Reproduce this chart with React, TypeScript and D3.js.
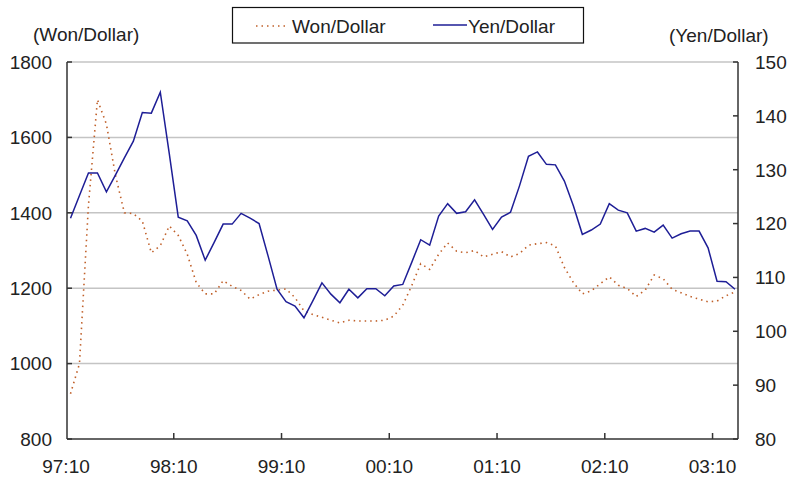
import React from "react";
import * as d3 from "d3";

// monthly data, 1997:10 onwards
const wonDollar = [
  920, 1000, 1420, 1700, 1635, 1500, 1400, 1398, 1378, 1294,
  1313, 1365, 1340, 1290, 1215, 1185, 1185, 1220, 1205, 1194,
  1171, 1183, 1192, 1195, 1198, 1175, 1140, 1130, 1123, 1115,
  1108, 1115, 1113, 1113, 1113, 1115, 1126, 1155, 1207, 1265,
  1250, 1290, 1320, 1298, 1294, 1300, 1283, 1290, 1297, 1283,
  1292, 1314, 1318, 1321, 1312, 1255, 1215, 1185, 1193, 1212,
  1230, 1208, 1199, 1178, 1195, 1235, 1225, 1197, 1188, 1178,
  1171, 1164, 1166, 1180, 1190,
];

const yenDollar = [
  121.0, 125.2, 129.4, 129.4, 125.9, 129.0, 132.2, 135.3, 140.6, 140.5,
  144.4, 133.0, 121.2, 120.5, 117.8, 113.2, 116.5, 119.9, 119.9, 121.9,
  121.0, 120.0, 114.0, 107.8, 105.5, 104.7, 102.5, 105.7, 109.0, 106.9,
  105.3, 107.8, 106.2, 107.9, 107.9, 106.6, 108.4, 108.7, 112.8, 117.0,
  116.0, 121.4, 123.7, 121.9, 122.2, 124.4, 121.7, 118.9, 121.2, 122.1,
  127.0, 132.5, 133.3, 131.0, 130.9, 127.9, 123.3, 118.0, 118.8, 119.9,
  123.7, 122.5, 122.0, 118.6, 119.1, 118.4, 119.7, 117.3, 118.1, 118.6,
  118.6, 115.5, 109.3, 109.2, 107.8,
];

const xTickLabels = ["97:10", "98:10", "99:10", "00:10", "01:10", "02:10", "03:10"];
const leftTicks = [800, 1000, 1200, 1400, 1600, 1800];
const rightTicks = [80, 90, 100, 110, 120, 130, 140, 150];

const WIDTH = 788;
const HEIGHT = 481;
const left = 67;
const right = 738;
const top = 62;
const bottom = 439;

const font = "'Liberation Sans', Arial, sans-serif";
const wonColor = "#c0602a";
const yenColor = "#1e1e96";

export default function App() {
  const n = wonDollar.length;
  const x = d3.scaleLinear().domain([0, n - 1]).range([70.5, 735]);
  const step = x(1) - x(0);
  const yL = d3.scaleLinear().domain([800, 1800]).range([bottom, top]);
  const yR = d3.scaleLinear().domain([80, 150]).range([bottom, top]);

  const wonLine = d3
    .line<number>()
    .x((_, i) => x(i))
    .y((d) => yL(d));
  const yenLine = d3
    .line<number>()
    .x((_, i) => x(i))
    .y((d) => yR(d));

  return (
    <svg
      width={WIDTH}
      height={HEIGHT}
      style={{ position: "absolute", left: 0, top: 0, background: "#fff" }}
      fontFamily={font}
    >
      {/* gridlines */}
      {leftTicks
        .filter((t) => t > 800)
        .map((t) => (
          <line
            key={"g" + t}
            x1={left}
            x2={right}
            y1={yL(t)}
            y2={yL(t)}
            stroke="#c4c4c4"
            strokeWidth={1.5}
          />
        ))}

      {/* series */}
      <path
        d={wonLine(wonDollar) || ""}
        fill="none"
        stroke={wonColor}
        strokeWidth={1.6}
        strokeDasharray="1.5 4"
      />
      <path d={yenLine(yenDollar) || ""} fill="none" stroke={yenColor} strokeWidth={1.5} />

      {/* axes */}
      <line x1={left} x2={left} y1={top} y2={bottom} stroke="#333" strokeWidth={1.5} />
      <line x1={right} x2={right} y1={top} y2={bottom} stroke="#333" strokeWidth={1.5} />
      <line x1={left} x2={right} y1={bottom} y2={bottom} stroke="#333" strokeWidth={1.5} />

      {leftTicks.map((t) => (
        <g key={"l" + t}>
          <line x1={left} x2={left + 5} y1={yL(t)} y2={yL(t)} stroke="#333" strokeWidth={1.5} />
          <text x={52} y={yL(t)} dy="0.36em" textAnchor="end" fontSize={19} fill="#222">
            {t}
          </text>
        </g>
      ))}
      {rightTicks.map((t) => (
        <g key={"r" + t}>
          <line x1={right - 5} x2={right} y1={yR(t)} y2={yR(t)} stroke="#333" strokeWidth={1.5} />
          <text x={755} y={yR(t)} dy="0.36em" textAnchor="start" fontSize={19} fill="#222">
            {t}
          </text>
        </g>
      ))}
      {xTickLabels.map((lab, k) => {
        const xp = x(k * 12) - step / 2;
        return (
          <g key={lab}>
            {k > 0 && (
              <line x1={xp} x2={xp} y1={bottom - 6} y2={bottom} stroke="#333" strokeWidth={1.5} />
            )}
            <text x={xp} y={473} textAnchor="middle" fontSize={19} fill="#222">
              {lab}
            </text>
          </g>
        );
      })}

      {/* axis titles */}
      <text x={33} y={41} fontSize={19} fill="#222">
        (Won/Dollar)
      </text>
      <text x={669} y={42} fontSize={19} fill="#222">
        (Yen/Dollar)
      </text>

      {/* legend */}
      <rect x={232.5} y={7.5} width={351} height={35.5} fill="#fff" stroke="#111" strokeWidth={1.2} />
      <line
        x1={256}
        x2={288}
        y1={26}
        y2={26}
        stroke={wonColor}
        strokeWidth={1.6}
        strokeDasharray="1.5 4"
      />
      <text x={292} y={33} fontSize={19} fill="#222">
        Won/Dollar
      </text>
      <line x1={433} x2={467} y1={25} y2={25} stroke={yenColor} strokeWidth={1.5} />
      <text x={468} y={33} fontSize={19} fill="#222">
        Yen/Dollar
      </text>
    </svg>
  );
}
